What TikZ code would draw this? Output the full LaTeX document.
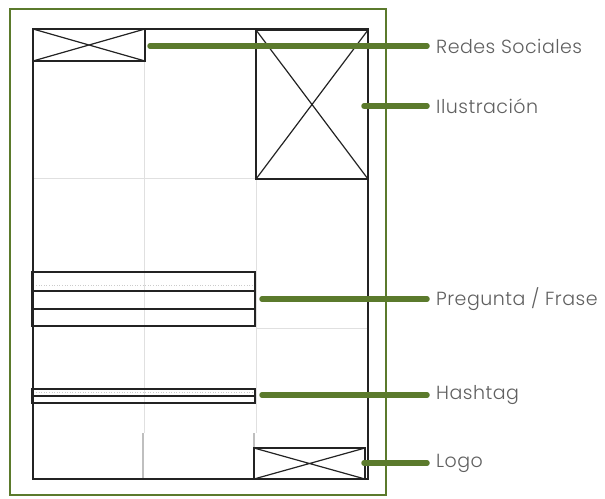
\documentclass[tikz,border=0pt]{standalone}
\usepackage{fontspec}
\setmainfont{Poppins Light}[LetterSpace=2.5]
\definecolor{leaf}{HTML}{5B7A2C}
\definecolor{ink}{HTML}{232323}
\definecolor{labelgray}{HTML}{606060}
\begin{document}
\begin{tikzpicture}[x=1pt,y=-1pt,
  box/.style={draw=ink, line width=1.4pt},
  cross/.style={draw=ink, line width=1.2pt},
  grid/.style={draw=black!12, line width=0.6pt},
  faint/.style={draw=black!20, line width=0.6pt, dotted},
  lead/.style={draw=leaf, line width=5.5pt, line cap=round},
  tag/.style={anchor=west, inner xsep=9pt, inner ysep=0pt, text=labelgray, font=\fontsize{19}{22}\selectfont}]
\useasboundingbox (0,0) rectangle (605,498);
% frame
\draw[leaf, line width=2.6pt] (10,9) rectangle (386,495);
% grid
\draw[grid] (144,29) -- (144,433);
\draw[grid] (256,179) -- (256,433);
\draw[grid] (33,178) -- (256,178);
\draw[grid] (256,328) -- (368,328);
\draw[draw=black!25, line width=1.8pt] (143,433) -- (143,479);
\draw[draw=black!25, line width=1.8pt] (254,433) -- (254,448);
% page
\draw[box] (33,29) rectangle (368,479);
% redes sociales
\draw[box] (33,29) rectangle (145,61);
\draw[cross] (33,29) -- (145,61) (33,61) -- (145,29);
% ilustracion
\draw[box] (256,30) rectangle (368,179);
\draw[cross] (256,30) -- (368,179) (256,179) -- (368,30);
% pregunta / frase
\draw[box] (32,272) rectangle (255,326);
\draw[box] (32,291) -- (255,291);
\draw[box] (32,309) -- (255,309);
\draw[faint] (36,285) -- (252,285);
% hashtag
\draw[box] (32,389) rectangle (255,403);
\draw[box] (32,396) -- (255,396);
\draw[faint] (36,392) -- (252,392);
% logo
\draw[box] (254,448) rectangle (365,479);
\draw[cross] (254,448) -- (365,479) (254,479) -- (365,448);
% anchors
\coordinate (redes) at (150,46);
\coordinate (ilus) at (364,106);
\coordinate (preg) at (262,299);
\coordinate (hash) at (262,395);
\coordinate (logo) at (364,463);
% labels
\node[tag] (tredes) at (427,46) {Redes Sociales};
\node[tag] (tilus) at (427,106) {Ilustración};
\node[tag] (tpreg) at (427,299) {Pregunta / Frase};
\node[tag] (thash) at (427,395) {Hashtag};
\node[tag] (tlogo) at (427,463) {Logo};
\draw[lead] (redes) -- (tredes.west);
\draw[lead] (ilus) -- (tilus.west);
\draw[lead] (preg) -- (tpreg.west);
\draw[lead] (hash) -- (thash.west);
\draw[lead] (logo) -- (tlogo.west);
\end{tikzpicture}
\end{document}
